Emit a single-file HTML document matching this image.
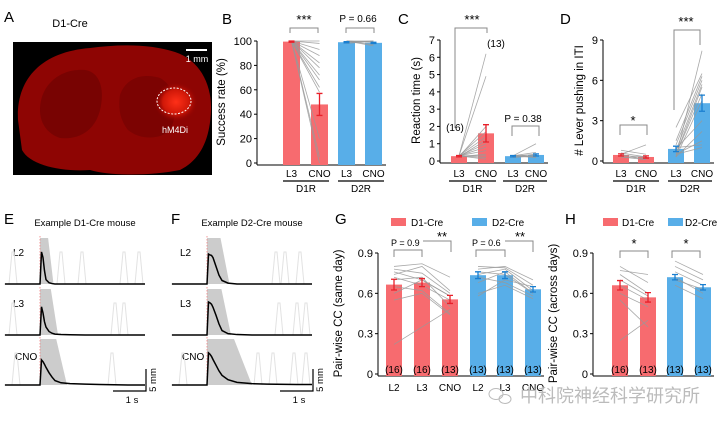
<!DOCTYPE html>
<html><head><meta charset="utf-8">
<style>
html,body{margin:0;padding:0;background:#fff;}
svg{display:block;font-family:"Liberation Sans",Arial,sans-serif;}
</style></head>
<body>
<svg id="fig" width="723" height="427" viewBox="0 0 723 427" xmlns="http://www.w3.org/2000/svg">
<defs>
<radialGradient id="hot" cx="0.5" cy="0.5" r="0.5">
<stop offset="0" stop-color="#ff3018"/><stop offset="0.6" stop-color="#d01808"/><stop offset="1" stop-color="#900000" stop-opacity="0"/>
</radialGradient>
</defs>
<g>
<text x="4" y="22" font-size="15">A</text>
<text x="70" y="27" font-size="11" text-anchor="middle">D1-Cre</text>
<rect x="13" y="42" width="199" height="133" fill="#000"/>
<path d="M18,120 C16,80 40,52 90,48 C120,44 150,44 175,52 C200,60 212,85 211,110 C210,140 200,160 180,170 C150,176 110,176 90,170 C60,172 30,165 22,150 Z" fill="#8e0503"/>
<path d="M40,110 C40,85 60,68 85,70 C100,72 105,90 100,110 C95,130 80,140 60,138 C48,134 40,124 40,110 Z" fill="#780302"/>
<path d="M120,95 C125,80 140,72 160,78 C175,86 180,110 170,130 C160,140 140,140 128,130 C120,120 118,108 120,95 Z" fill="#7c0302"/>
<ellipse cx="176" cy="102" rx="22" ry="20" fill="url(#hot)"/>
<ellipse cx="174" cy="101" rx="17" ry="13" fill="none" stroke="#fff" stroke-width="1" stroke-dasharray="2,1.5"/>
<text x="175" y="133" font-size="9" fill="#fff" text-anchor="middle">hM4Di</text>
<line x1="186" y1="50" x2="207" y2="50" stroke="#fff" stroke-width="2"/>
<text x="197" y="62" font-size="9" fill="#fff" text-anchor="middle">1 mm</text>
</g>
<g id="charts"></g>
<text x="520" y="402" font-size="18" fill="#bbb" font-family="'Liberation Sans','Noto Sans CJK SC',sans-serif">中科院神经科学研究所</text>
<g><ellipse cx="496" cy="394" rx="7" ry="5.5" fill="none" stroke="#bbb"/><ellipse cx="505" cy="399" rx="6" ry="4.5" fill="none" stroke="#bbb"/></g>
</svg>
<script>
// ---------- data ----------
const bCats = ["L3","CNO","L3","CNO"];
const bVals = [99.5, 48, 99, 98.5];
const bErr = [0.5, 9, 0.5, 0.5];
const bPairsD1 = [[100,100],[100,98],[100,93],[100,88],[100,82],[100,78],[100,72],[100,68],[100,62],[100,58],[100,20],[100,5],[100,0]];
const bPairsD2 = [[100,100],[100,99],[99,100],[100,96],[98,100],[100,99],[100,97]];
const cVals = [0.28, 1.6, 0.28, 0.35];
const cErr = [0.04, 0.5, 0.04, 0.06];
const cPairsD1 = [[0.3,6.2],[0.3,4.9],[0.25,2.0],[0.3,1.7],[0.3,1.4],[0.25,1.2],[0.3,1.0],[0.3,0.8],[0.3,0.6],[0.25,0.4],[0.3,0.3],[0.3,0.2],[0.3,0.1]];
const cPairsD2 = [[0.3,1.0],[0.3,0.5],[0.25,0.4],[0.3,0.35],[0.2,0.3],[0.3,0.25],[0.3,0.2]];
const dVals = [0.45, 0.3, 0.9, 4.3];
const dErr = [0.08, 0.08, 0.2, 0.6];
const dPairsD1 = [[0.5,1.2],[0.8,0.5],[0.6,0.3],[0.4,0.3],[0.3,0.2],[0.5,0.1],[0.3,0.1]];
const dPairsD2 = [[0.3,8.2],[2.5,6.5],[1.5,6.3],[1.2,6],[0.8,5.7],[0.5,5.5],[0.5,5],[0.3,4.5],[0.9,3],[0.3,2.2],[0.5,1.5],[1,1.2],[0.5,1]];
const gCats = ["L2","L3","CNO","L2","L3","CNO"];
const gVals = [0.665, 0.68, 0.555, 0.735, 0.735, 0.63];
const gErr = [0.04, 0.03, 0.03, 0.025, 0.025, 0.02];
const gN = ["(16)","(16)","(13)","(13)","(13)","(13)"];
const gLinesD1 = [[0.8,0.82,0.72],[0.78,0.75,0.6],[0.76,0.7,0.58],[0.74,0.8,0.62],[0.72,0.66,0.55],[0.7,0.72,0.5],[0.65,0.62,0.45],[0.6,0.7,0.58],[0.55,0.6,0.44],[0.22,0.35,0.48]];
const gLinesD2 = [[0.8,0.79,0.66],[0.78,0.8,0.7],[0.76,0.74,0.6],[0.74,0.78,0.62],[0.72,0.68,0.58],[0.68,0.76,0.6],[0.6,0.66,0.56],[0.58,0.7,0.65]];
const hVals = [0.66, 0.57, 0.72, 0.645];
const hErr = [0.035, 0.035, 0.02, 0.02];
const hN = ["(16)","(13)","(13)","(13)"];
const hPairsD1 = [[0.8,0.68],[0.77,0.74],[0.74,0.6],[0.7,0.58],[0.66,0.55],[0.6,0.5],[0.55,0.35],[0.25,0.4]];
const hPairsD2 = [[0.84,0.74],[0.8,0.7],[0.76,0.66],[0.72,0.6],[0.7,0.63],[0.66,0.56]];
const tTimes = [0,0.05,0.1,0.15,0.2,0.3,0.4,0.5,0.7,1,1.5,2,3];
const eL2 = [0,7.3,6,3,1,0.3,0.1,0,0,0,0,0,0];
const eL3 = [0,6.4,5,3,1.8,0.8,0.4,0.2,0.1,0.05,0,0,0];
const eCNO = [0,5.7,5.3,4.7,4,2.8,1.8,1,0.5,0.3,0.2,0.1,0];
const fL2 = [0,6.8,6.6,6.5,6,4,2,0.8,0.2,0,0,0,0];
const fL3 = [0,7.5,7.3,7,6.3,4.5,2.5,1,0.3,0.1,0,0,0];
const fCNO = [0,7.3,7,6.5,5.8,4.5,3.2,2.2,1.2,0.6,0.3,0.2,0.1];
const eFillEnd = [0.45, 0.6, 0.9];
const fFillEnd = [0.75, 0.8, 1.5];
const eSpikes = [[-0.9,0.7,1.4,2.8,3.3],[-0.9,2.5,2.8],[-0.8,2.4]];
const fSpikes = [[2.3,2.6,3.1],[2.4,3.0,3.3],[-0.8,1.7,2.2,2.9,3.3]];

const NS="http://www.w3.org/2000/svg";
const root=document.getElementById('charts');
function mk(tag,attrs,parent,text){const e=document.createElementNS(NS,tag);for(const k in attrs)e.setAttribute(k,attrs[k]);if(text!==undefined)e.textContent=text;(parent||root).appendChild(e);return e;}
const RED="#f76b6f", BLUE="#58aee8", REDD="#e8202a", BLUED="#1a7fd0";
function scale(y0,yTop,max){return v=>y0-(v/max)*(y0-yTop);}

function barPanel(o){
  const g=mk('g',{});
  
  
  const Y=scale(o.y0,o.yTop,o.max);
  const ax=mk('line',{x1:o.ax,y1:o.yTop,x2:o.ax,y2:o.y0+2,stroke:'#000','stroke-width':1},g);
  
  const xa=mk('line',{x1:o.ax,y1:o.y0+2,x2:o.xEnd,y2:o.y0+2,stroke:'#000','stroke-width':1},g);
  
  o.ticks.forEach((t,i)=>{
    const l=mk('line',{x1:o.ax-3,y1:Y(t),x2:o.ax,y2:Y(t),stroke:'#000'},g);
    
    const tx=mk('text',{x:o.ax-5,y:Y(t)+4,'font-size':11,'text-anchor':'end'},g,o.tickLabels[i]);
    
  });
  const yt=mk('text',{x:0,y:0,'font-size':11.5,'text-anchor':'middle',transform:`translate(${o.ax-o.titleOff},${(o.y0+o.yTop)/2}) rotate(-90)`},g,o.title);
  
  o.vals.forEach((v,i)=>{
    const b=mk('rect',{x:o.bx[i],y:Y(v),width:o.bw,height:o.y0+2-Y(v),fill:o.colors[i]},g);
    
  });
  (o.lines||[]).forEach(set=>{
    set.data.forEach(p=>{
      const pts=p.map((v,k)=>(o.bx[set.idx[k]]+o.bw/2)+','+Y(v)).join(' ');
      const pl=mk('polyline',{points:pts,fill:'none',stroke:'#999','stroke-width':0.8,opacity:0.85},g);
      
    });
  });
  o.vals.forEach((v,i)=>{
    const cx=o.bx[i]+o.bw/2, c=o.errColors[i];
    const e=mk('path',{d:`M${cx},${Y(v+o.err[i])}V${Y(v-o.err[i])}M${cx-3},${Y(v+o.err[i])}h6M${cx-3},${Y(v-o.err[i])}h6`,stroke:c,'stroke-width':1.3,fill:'none'},g);
    
  });
  return {g,Y};
}
function txt(g,x,y,s,str,name,extra){const t=mk('text',Object.assign({x,y,'font-size':s},extra||{}),g,str);return t;}
function bracket(g,x1,x2,y,h1,h2){const p=mk('path',{d:`M${x1},${y+h1}V${y}H${x2}V${y+h2}`,fill:'none',stroke:'#888','stroke-width':1},g);}
function groupLabels(g,bx,bw,cats,y,groups){
  cats.forEach((c,i)=>txt(g,bx[i]+bw/2,y,10,c,'x-tick-label',{'text-anchor':'middle'}));
  groups.forEach(gr=>{
    const l=mk('line',{x1:gr.x1,y1:y+4,x2:gr.x2,y2:y+4,stroke:'#000','stroke-width':1.2},g);
    
    txt(g,(gr.x1+gr.x2)/2,y+15,10,gr.label,'group-label',{'text-anchor':'middle'});
  });
}

{const bx=[283,311,338,365];
 const {g,Y}=barPanel({name:'panel-b',ax:257,y0:163,yTop:41,max:100,xEnd:386,ticks:[0,20,40,60,80,100],tickLabels:['0','20','40','60','80','100'],title:'Success rate (%)',titleOff:32,vals:bVals,err:bErr,bx,bw:17,colors:[RED,RED,BLUE,BLUE],errColors:[REDD,REDD,BLUED,BLUED],lines:[{idx:[0,1],data:bPairsD1},{idx:[2,3],data:bPairsD2}]});
 txt(g,222,24,15,'B','panel-b-label');
 txt(g,304,24,13,'***','significance-stars',{'text-anchor':'middle'});
 bracket(g,290,318,28,5,5);
 txt(g,358,22,10,'P = 0.66','p-value',{'text-anchor':'middle'});
 bracket(g,346,374,28,5,5);
 groupLabels(g,bx,17,bCats,177,[{x1:283,x2:329,label:'D1R'},{x1:338,x2:384,label:'D2R'}]);
}
{const bx=[451,478,505,528];
 const {g,Y}=barPanel({name:'panel-c',ax:440,y0:161,yTop:40,max:7,xEnd:548,ticks:[0,1,2,3,4,5,6,7],tickLabels:['0','1','2','3','4','5','6','7'],title:'Reaction time (s)',titleOff:20,vals:cVals,err:cErr,bx,bw:16,colors:[RED,RED,BLUE,BLUE],errColors:[REDD,REDD,BLUED,BLUED],lines:[{idx:[0,1],data:cPairsD1},{idx:[2,3],data:cPairsD2}]});
 txt(g,398,24,15,'C','panel-c-label');
 txt(g,472,24,13,'***','significance-stars',{'text-anchor':'middle'});
 bracket(g,455,487,28,100,5);
 txt(g,496,47,10,'(13)','n-label',{'text-anchor':'middle'});
 txt(g,455,131,10,'(16)','n-label',{'text-anchor':'middle'});
 txt(g,523,122,10,'P = 0.38','p-value',{'text-anchor':'middle'});
 bracket(g,512,539,126,10,10);
 groupLabels(g,bx,16,bCats,177,[{x1:449,x2:496,label:'D1R'},{x1:503,x2:547,label:'D2R'}]);
}
{const bx=[613,638,668,694];
 const {g,Y}=barPanel({name:'panel-d',ax:603,y0:161,yTop:40,max:9,xEnd:714,ticks:[0,3,6,9],tickLabels:['0','3','6','9'],title:'# Lever pushing in ITI',titleOff:20,vals:dVals,err:dErr,bx,bw:16,colors:[RED,RED,BLUE,BLUE],errColors:[REDD,REDD,BLUED,BLUED],lines:[{idx:[0,1],data:dPairsD1},{idx:[2,3],data:dPairsD2}]});
 txt(g,560,24,15,'D','panel-d-label');
 txt(g,686,26,13,'***','significance-stars',{'text-anchor':'middle'});
 bracket(g,674,700,30,80,15);
 txt(g,633,125,13,'*','significance-stars',{'text-anchor':'middle'});
 bracket(g,620,647,125,10,10);
 groupLabels(g,bx,16,bCats,177,[{x1:613,x2:659,label:'D1R'},{x1:668,x2:712,label:'D2R'}]);
}
{const bx=[386,414,442,470,497,525];
 const {g,Y}=barPanel({name:'panel-g',ax:378,y0:374,yTop:253,max:0.9,xEnd:544,ticks:[0,0.3,0.6,0.9],tickLabels:['0','0.3','0.6','0.9'],title:'Pair-wise  CC (same day)',titleOff:36,vals:gVals,err:gErr,bx,bw:16,colors:[RED,RED,RED,BLUE,BLUE,BLUE],errColors:[REDD,REDD,REDD,BLUED,BLUED,BLUED],lines:[{idx:[0,1,2],data:gLinesD1},{idx:[3,4,5],data:gLinesD2}]});
 txt(g,335,224,15,'G','panel-g-label');
 gN.forEach((n,i)=>txt(g,bx[i]+8,373,10,n,'n-label',{'text-anchor':'middle'}));
 gCats.forEach((c,i)=>txt(g,bx[i]+8,391,10,c,'x-tick-label',{'text-anchor':'middle'}));
 const l1=mk('rect',{x:391,y:218,width:15,height:8,fill:RED},g);
 txt(g,411,226,10,'D1-Cre','legend-entry');
 const l2=mk('rect',{x:472,y:218,width:15,height:8,fill:BLUE},g);
 txt(g,492,226,10,'D2-Cre','legend-entry');
 txt(g,391,246,9,'P = 0.9','p-value');
 bracket(g,394,422,250,7,7);
 txt(g,442,241,13,'**','significance-stars',{'text-anchor':'middle'});
 bracket(g,423,451,241,0,11);
 txt(g,472,246,9,'P = 0.6','p-value');
 bracket(g,476,505,250,7,7);
 txt(g,520,241,13,'**','significance-stars',{'text-anchor':'middle'});
 bracket(g,505,533,241,0,11);
}
{const bx=[612,640,667,695];
 const {g,Y}=barPanel({name:'panel-h',ax:593,y0:374,yTop:253,max:0.9,xEnd:714,ticks:[0,0.3,0.6,0.9],tickLabels:['0','0.3','0.6','0.9'],title:'Pair-wise  CC (across days)',titleOff:36,vals:hVals,err:hErr,bx,bw:16,colors:[RED,RED,BLUE,BLUE],errColors:[REDD,REDD,BLUED,BLUED],lines:[{idx:[0,1],data:hPairsD1},{idx:[2,3],data:hPairsD2}]});
 txt(g,565,224,15,'H','panel-h-label');
 hN.forEach((n,i)=>txt(g,bx[i]+8,373,10,n,'n-label',{'text-anchor':'middle'}));
 const l1=mk('rect',{x:603,y:218,width:15,height:8,fill:RED},g);
 txt(g,622,226,10,'D1-Cre','legend-entry');
 const l2=mk('rect',{x:668,y:218,width:15,height:8,fill:BLUE},g);
 txt(g,685,226,10,'D2-Cre','legend-entry');
 txt(g,634,248,13,'*','significance-stars',{'text-anchor':'middle'});
 bracket(g,620,648,251,7,7);
 txt(g,686,248,13,'*','significance-stars',{'text-anchor':'middle'});
 bracket(g,672,700,251,7,7);
}
function tracePanel(name,ox,letter,title,means,fillEnd,spikes){
  const g=mk('g',{});
  
  txt(g,ox+4,224,15,letter,name+'-label');
  txt(g,ox+85,226,9.5,title,name+'-title',{'text-anchor':'middle'});
  const X=t=>ox+40+t*30;
  const bases=[284,335,385];
  const labels=['L2','L3','CNO'];
  const mm=4.4;
  means.forEach((m,r)=>{
    const b=bases[r];
    txt(g,ox+(r===2?15:13),b-(r===2?25:28),10,labels[r],'trace-label');
    spikes[r].forEach(t=>{
      const sp=mk('path',{d:`M${X(t)-4},${b}L${X(t)-1},${b-32}L${X(t)+1},${b-32}L${X(t)+4},${b}`,fill:'none',stroke:'#e2e2e2','stroke-width':1},g);
      
    });
    const fill=mk('path',{d:`M${X(0)},${b}V${b-46}H${X(fillEnd[r]*0.6)}L${X(fillEnd[r])},${b}Z`,fill:'#cccccc'},g);
    
    const on=mk('line',{x1:X(0),y1:b-48,x2:X(0),y2:b,stroke:'#f08080','stroke-width':0.8,'stroke-dasharray':'1.5,1.5'},g);
    
    const pts=[[X(-1.17),b],[X(0),b]].concat(tTimes.map((t,k)=>[X(t),b-m[k]*mm])).concat([[X(3.5),b-m[m.length-1]*mm]]);
    const pl=mk('polyline',{points:pts.map(p=>p.join(',')).join(' '),fill:'none',stroke:'#000','stroke-width':1.5},g);
    
  });
  const sb=mk('path',{d:`M${ox+113},391H${ox+146}V369`,fill:'none',stroke:'#000','stroke-width':1.2},g);
  
  txt(g,ox+132,403,9.5,'1 s','scale-bar-time',{'text-anchor':'middle'});
  txt(g,0,0,9.5,'5 mm','scale-bar-distance',{'text-anchor':'middle',transform:`translate(${ox+156},380) rotate(-90)`});
}
tracePanel('panel-e',0,'E','Example D1-Cre mouse',[eL2,eL3,eCNO],eFillEnd,eSpikes);
tracePanel('panel-f',167,'F','Example D2-Cre mouse',[fL2,fL3,fCNO],fFillEnd,fSpikes);
</script>
</body></html>
